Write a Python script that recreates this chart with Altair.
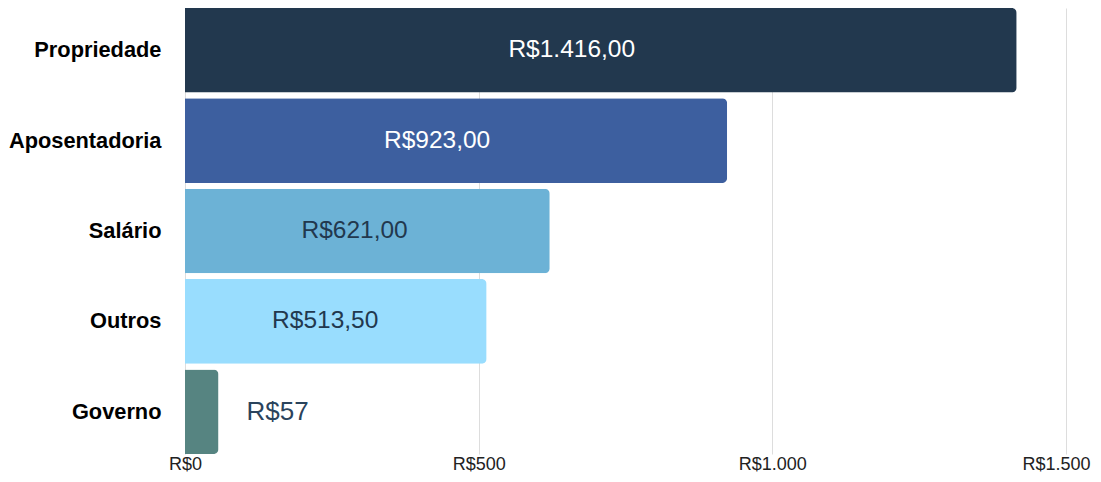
import altair as alt
import pandas as pd

categories = ["Propriedade", "Aposentadoria", "Salário", "Outros", "Governo"]
values = [1416, 923, 621, 513.5, 57]
value_labels = ["R$1.416,00", "R$923,00", "R$621,00", "R$513,50", "R$57"]
x_ticks = [0, 500, 1000, 1500]

bar_colors = ["#22384e", "#3d5f9f", "#6cb2d6", "#99ddfe", "#568481"]
text_colors = ["#ffffff", "#ffffff", "#22384e", "#22384e", "#2a435c"]

df = pd.DataFrame({"category": categories, "value": values, "label": value_labels})

FONT = "Liberation Sans"

y_enc = alt.Y(
    "category:N",
    sort=categories,
    scale=alt.Scale(paddingInner=0.065, paddingOuter=0),
    axis=alt.Axis(
        title=None, labelFontSize=21.8, labelFontWeight="bold", labelColor="#000000",
        labelFont=FONT, ticks=False, domain=False, labelPadding=24, grid=False,
    ),
)

x_scale = alt.Scale(domain=[0, 1500], nice=False)

bars = alt.Chart(df).mark_bar(cornerRadiusEnd=5).encode(
    y=y_enc,
    x=alt.X(
        "value:Q",
        scale=x_scale,
        axis=alt.Axis(
            values=x_ticks,
            labelExpr="'R$' + replace(format(datum.value, ','), ',', '.')",
            title=None, grid=True, gridColor="#dddddd", gridWidth=1,
            domain=False, ticks=False, labelFontSize=18, labelColor="#222222",
            labelFont=FONT, labelPadding=1, labelFlush=False,
            labelOffset=alt.condition("datum.value == 1500", alt.value(-10), alt.value(0)),
        ),
    ),
    color=alt.Color("category:N", scale=alt.Scale(domain=categories, range=bar_colors), legend=None),
)

inside = alt.Chart(df).transform_filter("datum.value >= 200").transform_calculate(
    mid="datum.value * 0.465"
).mark_text(fontSize=24.5, font=FONT).encode(
    y=alt.Y("category:N", sort=categories),
    x=alt.X("mid:Q", scale=x_scale),
    text="label:N",
    color=alt.Color("category:N", scale=alt.Scale(domain=categories, range=text_colors), legend=None),
)

outside = alt.Chart(df).transform_filter("datum.value < 200").mark_text(
    fontSize=26, font=FONT, align="left", dx=28
).encode(
    y=alt.Y("category:N", sort=categories),
    x=alt.X("value:Q", scale=x_scale),
    text="label:N",
    color=alt.Color("category:N", scale=alt.Scale(domain=categories, range=text_colors), legend=None),
)

chart = alt.layer(bars, inside, outside).resolve_scale(color="independent").properties(
    width=881,
    height=446,
    autosize=alt.AutoSizeParams(type="none"),
    padding={"left": 177, "top": 0, "right": 27, "bottom": 18},
    background="white",
).configure_view(stroke=None)

chart.save("out.html", embed_options={"renderer": "svg", "actions": False})
